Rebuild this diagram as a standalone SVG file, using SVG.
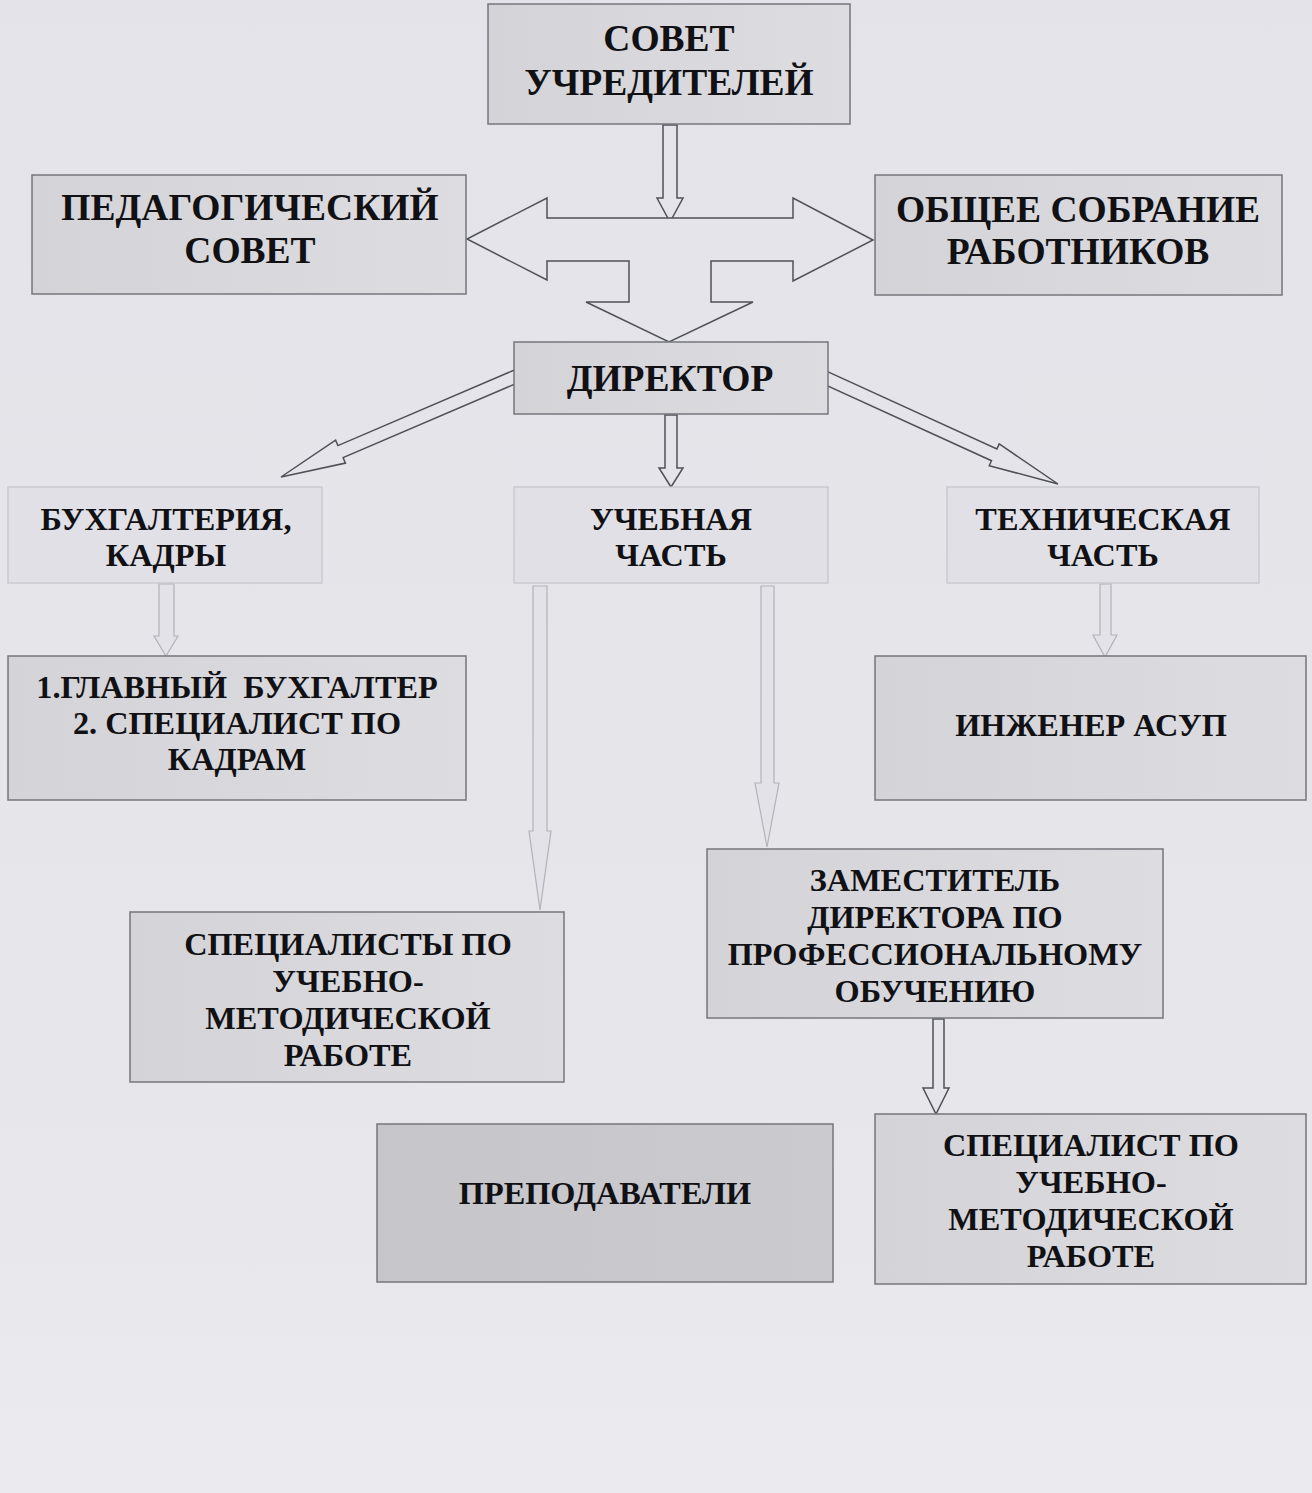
<svg xmlns="http://www.w3.org/2000/svg" width="1312" height="1493" viewBox="0 0 1312 1493">
<defs>
<style>
.bx{stroke:#76767e;stroke-width:1.5}
.lt{stroke:#c4c4cc;stroke-width:1.2}
.t{font-family:"Liberation Serif","Times New Roman",serif;font-weight:bold;fill:#111114;text-anchor:middle}
.big{font-size:37.5px}
.sm{font-size:32.3px}
.ad{fill:#e4e4ea;stroke:#505058;stroke-width:1.5;stroke-linejoin:miter}
.af{fill:#e2e2e8;stroke:#b2b2ba;stroke-width:1.2}
</style>
<linearGradient id="g1" x1="0" y1="0" x2="1" y2="0">
<stop offset="0" stop-color="#d3d3d8"/><stop offset="1" stop-color="#dcdce1"/>
</linearGradient>
<linearGradient id="g2" x1="0" y1="0" x2="1" y2="0">
<stop offset="0" stop-color="#c5c5ca"/><stop offset="1" stop-color="#cacacf"/>
</linearGradient>
<linearGradient id="bg" x1="0" y1="0" x2="0" y2="1">
<stop offset="0" stop-color="#e3e3e9"/><stop offset="0.75" stop-color="#e6e6eb"/><stop offset="1" stop-color="#ebebef"/>
</linearGradient>
</defs>
<rect width="1312" height="1493" fill="url(#bg)"/>

<g id="connectors">
<polygon class="ad" points="663,125 677,125 677,198 683,198 670,222 657,198 663,198"/>
<polygon class="ad" points="629,261 629,302 586,302 669,342 753,302 711,302 711,261 793,261 793,281 873,240 793,198 793,218 547,218 547,198 467,239 547,280 547,261"/>
<polygon class="ad" points="514.4,370 337.9,445.6 335.6,440.1 281,477 345.4,463.1 343.1,457.6 519.6,382"/>
<polygon class="ad" points="817.7,367.1 996.9,448.9 999.2,443.9 1058,484 989.2,465.7 991.5,460.7 812.3,378.9"/>
<polygon class="ad" points="665,415 677,415 677,468 683,468 671,487 659,468 665,468"/>
<polygon class="af" points="159,584 174,584 174,636 178,636 166,656 154,636 159,636"/>
<polygon class="af" points="533,586 547,586 547,831 551,831 540,910 529,831 533,831"/>
<polygon class="af" points="761,586 774,586 774,783 779,783 767,847 755,783 761,783"/>
<polygon class="af" points="1100,584 1111,584 1111,635 1117,635 1105,657 1093,635 1100,635"/>
<polygon class="ad" points="933,1019 944,1019 944,1088 949,1088 936,1114 923,1088 933,1088"/>
</g>

<g id="sovet-uchrediteley">
<rect class="bx" x="488" y="4" width="362" height="120" fill="url(#g1)"/>
<text class="t big" x="669" y="51">СОВЕТ</text>
<text class="t big" x="669" y="95">УЧРЕДИТЕЛЕЙ</text>
</g>

<g id="ped-sovet">
<rect class="bx" x="32" y="175" width="434" height="119" fill="url(#g1)"/>
<text class="t big" x="250" y="220">ПЕДАГОГИЧЕСКИЙ</text>
<text class="t big" x="250" y="263">СОВЕТ</text>
</g>

<g id="obshee-sobranie">
<rect class="bx" x="875" y="175" width="407" height="120" fill="url(#g1)"/>
<text class="t big" x="1078" y="222">ОБЩЕЕ СОБРАНИЕ</text>
<text class="t big" x="1078" y="264">РАБОТНИКОВ</text>
</g>

<g id="direktor">
<rect class="bx" x="514" y="342" width="314" height="72" fill="url(#g1)"/>
<text class="t big" x="670" y="391">ДИРЕКТОР</text>
</g>

<g id="buhgalteriya">
<rect class="lt" x="8" y="487" width="314" height="96" fill="#e0e0e6"/>
<text class="t sm" x="166" y="530">БУХГАЛТЕРИЯ,</text>
<text class="t sm" x="166" y="566">КАДРЫ</text>
</g>

<g id="uchebnaya">
<rect class="lt" x="514" y="487" width="314" height="96" fill="#e0e0e6"/>
<text class="t sm" x="671" y="530">УЧЕБНАЯ</text>
<text class="t sm" x="671" y="566">ЧАСТЬ</text>
</g>

<g id="tehnicheskaya">
<rect class="lt" x="947" y="487" width="312" height="96" fill="#e0e0e6"/>
<text class="t sm" x="1103" y="530">ТЕХНИЧЕСКАЯ</text>
<text class="t sm" x="1103" y="566">ЧАСТЬ</text>
</g>

<g id="glavbuh">
<rect class="bx" x="8" y="656" width="458" height="144" fill="url(#g1)"/>
<text class="t sm" x="237" y="698" xml:space="preserve">1.ГЛАВНЫЙ  БУХГАЛТЕР</text>
<text class="t sm" x="237" y="734">2. СПЕЦИАЛИСТ ПО</text>
<text class="t sm" x="237" y="770">КАДРАМ</text>
</g>

<g id="inzhener">
<rect class="bx" x="875" y="656" width="431" height="144" fill="url(#g1)"/>
<text class="t sm" x="1091" y="736">ИНЖЕНЕР АСУП</text>
</g>

<g id="specialisty">
<rect class="bx" x="130" y="912" width="434" height="170" fill="url(#g1)"/>
<text class="t sm" x="348" y="955">СПЕЦИАЛИСТЫ ПО</text>
<text class="t sm" x="348" y="992">УЧЕБНО-</text>
<text class="t sm" x="348" y="1029">МЕТОДИЧЕСКОЙ</text>
<text class="t sm" x="348" y="1066">РАБОТЕ</text>
</g>

<g id="zamestitel">
<rect class="bx" x="707" y="849" width="456" height="169" fill="url(#g1)"/>
<text class="t sm" x="935" y="891">ЗАМЕСТИТЕЛЬ</text>
<text class="t sm" x="935" y="928">ДИРЕКТОРА ПО</text>
<text class="t sm" x="935" y="965">ПРОФЕССИОНАЛЬНОМУ</text>
<text class="t sm" x="935" y="1002">ОБУЧЕНИЮ</text>
</g>

<g id="prepodavateli">
<rect class="bx" x="377" y="1124" width="456" height="158" fill="url(#g2)"/>
<text class="t sm" x="605" y="1204">ПРЕПОДАВАТЕЛИ</text>
</g>

<g id="specialist">
<rect class="bx" x="875" y="1114" width="431" height="170" fill="url(#g1)"/>
<text class="t sm" x="1091" y="1156">СПЕЦИАЛИСТ ПО</text>
<text class="t sm" x="1091" y="1193">УЧЕБНО-</text>
<text class="t sm" x="1091" y="1230">МЕТОДИЧЕСКОЙ</text>
<text class="t sm" x="1091" y="1267">РАБОТЕ</text>
</g>
</svg>
